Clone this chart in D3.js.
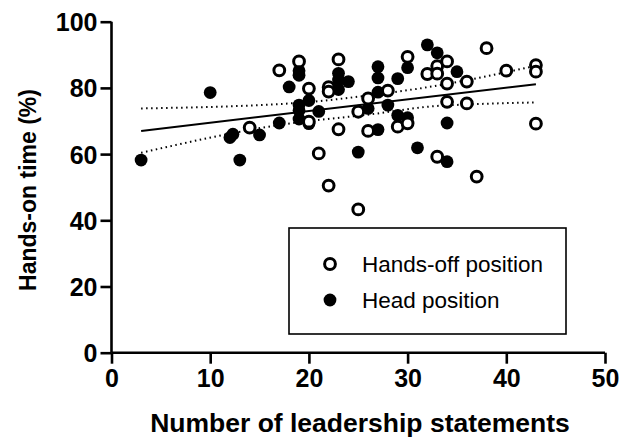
<!DOCTYPE html>
<html>
<head>
	<title>Hands-on time</title>
	<script type="text/javascript" src="https://d3js.org/d3.v7.min.js"></script>
	<style>
		body { margin: 0; background: #fff; }
		text { font-family: "Liberation Sans", Arial, sans-serif; }
	</style>
</head>
<body>
<div id="container"></div>
<script type="text/javascript">

// hands-off position (open circles): [statements, hands-on %]
var handsOff = [
  [14, 68], [17, 85.3], [19, 88], [20, 79.8], [20, 69.8], [21, 60.2],
  [22, 80.2], [22, 78.9], [22, 50.5], [23, 88.6], [23, 67.5], [25, 72.8],
  [25, 43.3], [26, 76.8], [26, 67], [28, 79.2], [29, 68.3], [30, 89.4],
  [30, 69.3], [32, 84.2], [33, 86.6], [33, 84.3], [33, 59.2], [34, 88],
  [34, 81.3], [34, 75.8], [36, 81.9], [36, 75.3], [37, 53.2], [38, 92],
  [40, 85.2], [43, 86.9], [43, 84.9], [43, 69.2]
];

// head position (filled circles)
var headPos = [
  [3, 58.2], [10, 78.6], [12, 65], [12.3, 66], [13, 58.2], [15, 65.8],
  [17, 69.4], [18, 80.3], [19, 85.2], [19, 83.8], [19, 74.8], [19, 73.2],
  [19, 70.6], [20, 76.2], [20, 69.2], [21, 72.9], [22, 79.6], [23, 84.4],
  [23, 82.4], [23, 79.5], [24, 81.9], [25, 60.6], [26, 73.8], [27, 86.4],
  [27, 83], [27, 78.7], [27, 67.4], [28, 74.8], [29, 82.8], [29, 71.7],
  [30, 86.1], [30, 71], [31, 61.9], [32, 93], [33, 90.6], [34, 69.4],
  [34, 57.7], [35, 84.9]
];

// fitted line and its dotted band
var fitLine = [[3, 67], [43, 81.1]];
var bandUpper = [[3, 73.8], [19, 75.5], [27, 78.1], [32, 80.2], [37, 82.9], [43, 86.7]];
var bandLower = [[3, 60.4], [17, 68.8], [27, 72.3], [32, 74.3], [37, 75.1], [43, 75.6]];

var xTicks = [0, 10, 20, 30, 40, 50];
var yTicks = [0, 20, 40, 60, 80, 100];
var legendItems = [
  {label: "Hands-off position", open: true},
  {label: "Head position", open: false}
];

var width = 621;
var height = 438;

var svg = d3.select("#container").append("svg")
    .attr("width", width).attr("height", height);

var x = d3.scaleLinear().domain([0, 50]).range([111.5, 605]);
var y = d3.scaleLinear().domain([0, 100]).range([352.7, 21.7]);

// axes
var xAxis = svg.append("g")
    .attr("transform", "translate(0," + y(0) + ")")
    .call(d3.axisBottom(x).tickValues(xTicks).tickSize(11).tickPadding(6).tickFormat(d3.format("d")));
var yAxis = svg.append("g")
    .attr("transform", "translate(" + x(0) + ",0)")
    .call(d3.axisLeft(y).tickValues(yTicks).tickSize(11).tickPadding(3).tickFormat(d3.format("d")));

[xAxis, yAxis].forEach(function(a) {
  a.select(".domain").attr("stroke", "#000").attr("stroke-width", 2.6)
      .attr("d", a === xAxis ? "M" + x(0) + ",0H" + x(50) : "M0," + y(100) + "V" + y(0));
  a.selectAll(".tick line").attr("stroke", "#000").attr("stroke-width", 2.6);
  a.selectAll(".tick text").attr("fill", "#000")
      .style("font-size", "25px").style("font-weight", "bold");
});
yAxis.selectAll(".tick text").attr("dy", "0.36em");

// axis titles
svg.append("text")
    .attr("x", 360).attr("y", 432)
    .attr("text-anchor", "middle")
    .style("font-size", "26.5px").style("font-weight", "bold")
    .text("Number of leadership statements");
svg.append("text")
    .attr("transform", "translate(36," + 190 + ") rotate(-90)")
    .attr("text-anchor", "middle")
    .style("font-size", "23px").style("font-weight", "bold")
    .text("Hands-on time (%)");

// band + fit
var line = d3.line()
    .x(function(d) { return x(d[0]); })
    .y(function(d) { return y(d[1]); });
var bandLine = d3.line()
    .curve(d3.curveMonotoneX)
    .x(function(d) { return x(d[0]); })
    .y(function(d) { return y(d[1]); });

[bandUpper, bandLower].forEach(function(b) {
  svg.append("path").datum(b)
      .attr("d", bandLine)
      .attr("fill", "none").attr("stroke", "#000")
      .attr("stroke-width", 2).attr("stroke-dasharray", "1.5,3.5");
});
svg.append("path").datum(fitLine)
    .attr("d", line)
    .attr("fill", "none").attr("stroke", "#000").attr("stroke-width", 2);

// points
var r = 5.4;
svg.append("g").selectAll("circle")
    .data(headPos).enter().append("circle")
    .attr("cx", function(d) { return x(d[0]); })
    .attr("cy", function(d) { return y(d[1]); })
    .attr("r", r + 1)
    .attr("fill", "#000");

svg.append("g").selectAll("circle")
    .data(handsOff).enter().append("circle")
    .attr("cx", function(d) { return x(d[0]); })
    .attr("cy", function(d) { return y(d[1]); })
    .attr("r", r)
    .attr("fill", "#fff").attr("stroke", "#000").attr("stroke-width", 3);

// legend
var legend = svg.append("g");
legend.append("rect")
    .attr("x", 289).attr("y", 228).attr("width", 277).attr("height", 106)
    .attr("fill", "#fff").attr("stroke", "#000").attr("stroke-width", 1.6);

var li = legend.selectAll(".item").data(legendItems).enter().append("g")
    .attr("class", "item")
    .attr("transform", function(d, i) { return "translate(0," + (264 + i * 36) + ")"; });
li.append("circle")
    .attr("cx", 330).attr("cy", 0)
    .attr("r", function(d) { return d.open ? r : r + 1; })
    .attr("fill", function(d) { return d.open ? "#fff" : "#000"; })
    .attr("stroke", function(d) { return d.open ? "#000" : "none"; })
    .attr("stroke-width", 3);
li.append("text")
    .attr("x", 362).attr("y", 0).attr("dy", "0.35em")
    .style("font-size", "22.5px")
    .text(function(d) { return d.label; });

</script>
</body>
</html>
